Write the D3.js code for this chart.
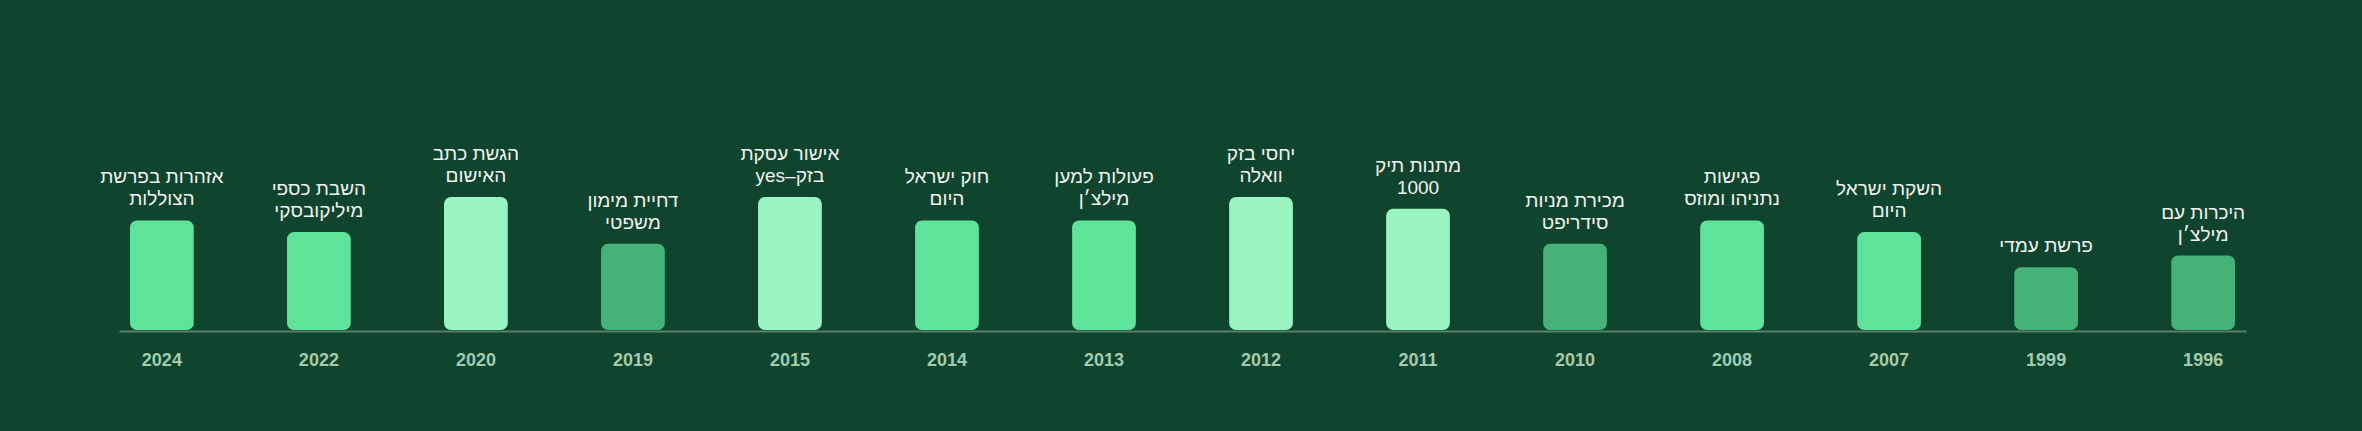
<!DOCTYPE html>
<html>
<head>
<meta charset="utf-8">
<script src="https://cdn.jsdelivr.net/npm/d3@7"></script>
<style>
  html, body { margin: 0; padding: 0; background: #0e452c; }
  svg { display: block; }
  .label { font-family: 'Liberation Sans', Arial, sans-serif; font-size: 19px; fill: #f3f3f3; }
  .year { font-family: 'Liberation Sans', Arial, sans-serif; font-size: 18px; font-weight: bold; fill: #a3cbae; }
</style>
</head>
<body>
<div id="chart"></div>
<script>
// שנים, מסודרות כמו בתמונה (מימין לשמאל בזמן)
const years = ['2024', '2022', '2020', '2019', '2015', '2014', '2013', '2012', '2011', '2010', '2008', '2007', '1999', '1996']
// כותרות האירועים, '|' = שבירת שורה
const labels = [
  'אזהרות בפרשת|הצוללות',
  'השבת כספי|מיליקובסקי',
  'הגשת כתב|האישום',
  'דחיית מימון|משפטי',
  'אישור עסקת|בזק–yes',
  'חוק ישראל|היום',
  'פעולות למען|מילצ׳ן',
  'יחסי בזק|וואלה',
  'מתנות תיק|1000',
  'מכירת מניות|סידריפט',
  'פגישות|נתניהו ומוזס',
  'השקת ישראל|היום',
  'פרשת עמדי',
  'היכרות עם|מילצ׳ן'
]
// חומרה (ערך הגובה)
const severity = [8, 7, 10, 6, 10, 8, 8, 10, 9, 6, 8, 7, 4, 5]

const width = 2362
const height = 431
const baseY = 330

const data = years.map((y, i) => ({ year: y, label: labels[i], value: severity[i] }))

function getColor (v) {
  if (v >= 9) return '#9af4c2'
  if (v >= 7) return '#5ee39a'
  return '#45b378'
}

const svg = d3.select('#chart')
  .append('svg')
  .attr('width', width)
  .attr('height', height)

svg.append('rect')
  .attr('width', width)
  .attr('height', height)
  .attr('fill', '#0e452c')

const xScale = d3.scaleBand()
  .domain(years)
  .range([119, 2246])
  .paddingInner(0.594)
  .paddingOuter(0.07)

const yScale = d3.scaleLinear()
  .domain([0, 10])
  .range([314, 197])

const g = svg.append('g')

g.selectAll('.bar')
  .data(data)
  .enter()
  .append('rect')
  .attr('class', 'bar')
  .attr('x', d => xScale(d.year))
  .attr('y', d => yScale(d.value))
  .attr('width', xScale.bandwidth())
  .attr('height', d => baseY - yScale(d.value))
  .attr('rx', 7)
  .attr('fill', d => getColor(d.value))

// קו הבסיס
const xAxis = d3.axisBottom(xScale).tickSize(0).tickPadding(22)
const xAxisG = g.append('g')
  .attr('transform', `translate(0,${baseY + 1})`)
  .call(xAxis)
xAxisG.select('.domain')
  .attr('stroke', '#5c7f69')
  .attr('stroke-width', 2)
xAxisG.selectAll('.tick text')
  .attr('class', 'year')
  .attr('font-family', null)
  .attr('font-size', null)
  .attr('fill', null)

// כותרות מעל העמודות
const lineH = 22
const labelG = g.selectAll('.label')
  .data(data)
  .enter()
  .append('text')
  .attr('class', 'label')
  .attr('direction', 'rtl')
  .attr('text-anchor', 'middle')
  .attr('x', d => xScale(d.year) + xScale.bandwidth() / 2)
  .attr('y', d => yScale(d.value) - 15)

labelG.each(function (d) {
  const lines = d.label.split('|')
  const t = d3.select(this)
  lines.forEach((line, i) => {
    t.append('tspan')
      .attr('x', xScale(d.year) + xScale.bandwidth() / 2)
      .attr('dy', i === 0 ? -(lines.length - 1) * lineH : lineH)
      .text(line)
  })
})
</script>
</body>
</html>
